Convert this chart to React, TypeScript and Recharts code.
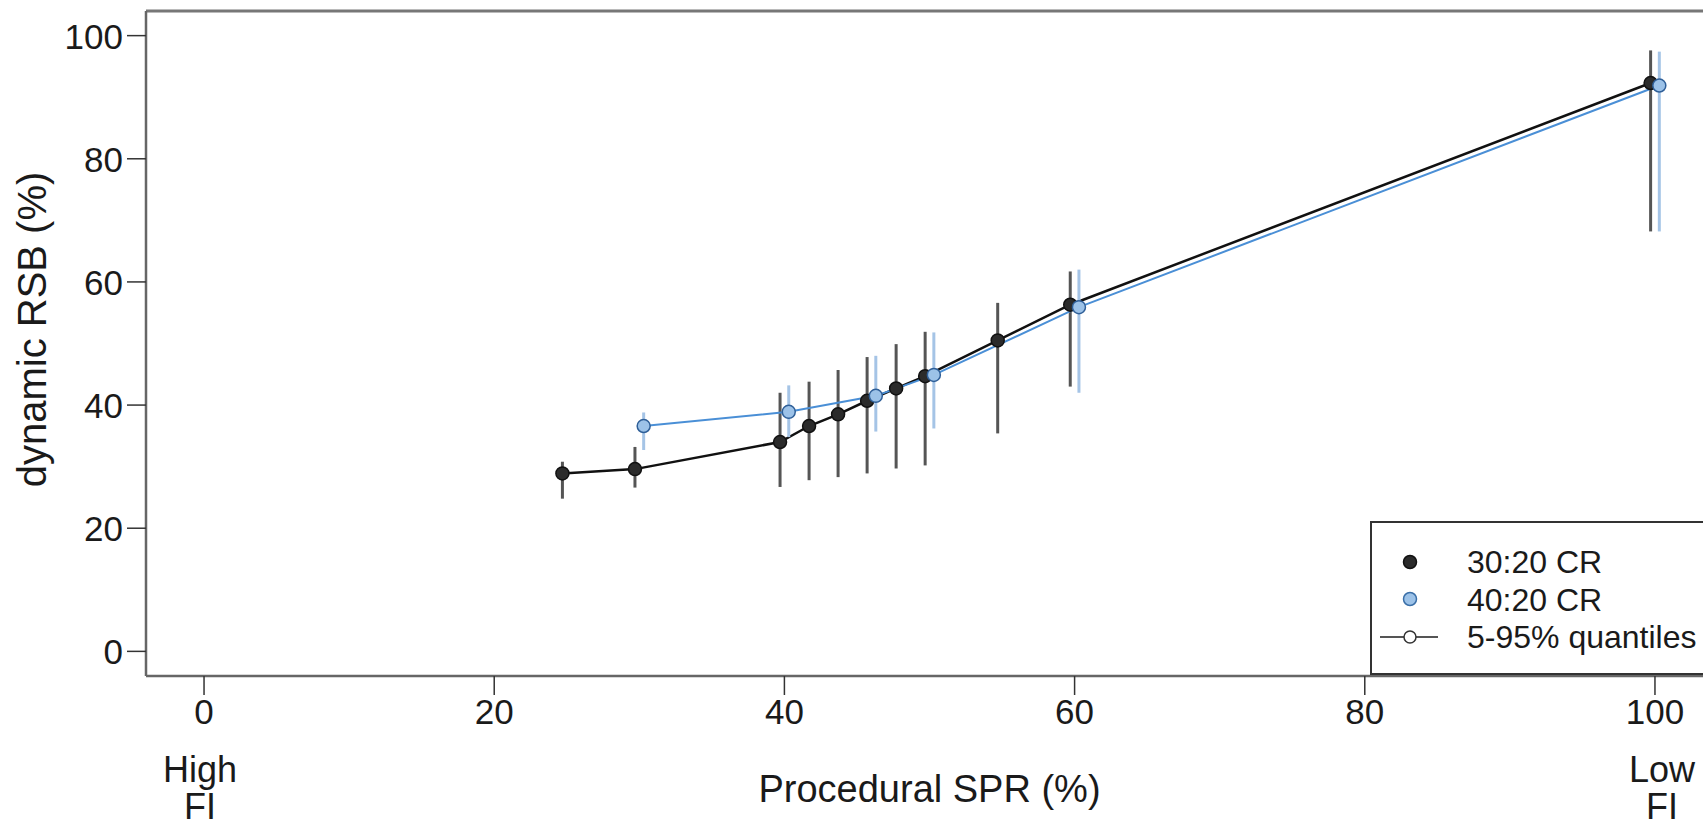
import React from 'react'
import { ComposedChart, Line, XAxis, YAxis, ErrorBar, ReferenceLine } from 'recharts'

// 30:20 CR (black), x slightly dodged left
const spr30 = [24.7, 29.7, 39.7, 41.7, 43.7, 45.7, 47.7, 49.7, 54.7, 59.7, 99.7]
const rsb30 = [28.9, 29.6, 34.0, 36.6, 38.5, 40.7, 42.7, 44.7, 50.5, 56.3, 92.3]
const lo30 = [24.8, 26.6, 26.7, 27.8, 28.3, 28.9, 29.7, 30.2, 35.4, 43.0, 68.2]
const hi30 = [30.8, 33.2, 42.0, 43.8, 45.7, 47.8, 49.9, 51.9, 56.6, 61.7, 97.6]

// 40:20 CR (blue), x slightly dodged right
const spr40 = [30.3, 40.3, 46.3, 50.3, 60.3, 100.3]
const rsb40 = [36.6, 38.9, 41.5, 44.9, 55.9, 91.9]
const lo40 = [32.7, 34.8, 35.7, 36.2, 42.0, 68.2]
const hi40 = [38.8, 43.2, 48.0, 51.8, 62.0, 97.4]

const xTicks = [0, 20, 40, 60, 80, 100]
const yTicks = [0, 20, 40, 60, 80, 100]
const legendItems = ['30:20 CR', '40:20 CR', '5-95% quantiles']

const FONT = '"Liberation Sans", Arial, sans-serif'
const INK = '#1a1a1a'

const toRows = (xs: number[], ys: number[], lo: number[], hi: number[]) =>
  xs.map((x, i) => ({ x, y: ys[i], err: [ys[i] - lo[i], hi[i] - ys[i]] }))

const rows30 = toRows(spr30, rsb30, lo30, hi30)
const rows40 = toRows(spr40, rsb40, lo40, hi40)

const XTick = (props: any) => {
  const { x, y, payload } = props
  const v = payload.value
  return (
    <g transform={`translate(${x},${y})`} fontFamily={FONT} fill={INK}>
      <text textAnchor="middle" dy={26} fontSize={35}>{v}</text>
      {v === 0 && (
        <>
          <text x={-4} y={84} textAnchor="middle" fontSize={36}>High</text>
          <text x={-4} y={121} textAnchor="middle" fontSize={36}>FI</text>
        </>
      )}
      {v === 100 && (
        <>
          <text x={7} y={84} textAnchor="middle" fontSize={36}>Low</text>
          <text x={7} y={121} textAnchor="middle" fontSize={36}>FI</text>
        </>
      )}
    </g>
  )
}

const YTick = (props: any) => {
  const { x, y, payload } = props
  return (
    <text x={x} y={y} dy={13} textAnchor="end" fontSize={35} fontFamily={FONT} fill={INK}>
      {payload.value}
    </text>
  )
}

const XTitle = (props: any) => {
  const vb = props.viewBox
  return (
    <text x={vb.x + vb.width / 2} y={vb.y + 126} textAnchor="middle" fontSize={38} fontFamily={FONT} fill={INK}>
      Procedural SPR (%)
    </text>
  )
}

const YTitle = (props: any) => {
  const vb = props.viewBox
  const cx = 46
  const cy = vb.y + vb.height / 2 - 14
  return (
    <text
      x={cx}
      y={cy}
      transform={`rotate(-90, ${cx}, ${cy})`}
      textAnchor="middle"
      fontSize={40}
      fontFamily={FONT}
      fill={INK}
    >
      dynamic RSB (%)
    </text>
  )
}

const LegendBox = () => (
  <svg width={1703} height={829} style={{ position: 'absolute', left: 0, top: 0, pointerEvents: 'none' }}>
    <rect x={1371} y={522} width={400} height={152} fill="#fff" stroke="#333" strokeWidth={2} />
    <circle cx={1410} cy={562} r={6.5} fill="#2b2b2b" stroke="#111" strokeWidth={1.5} />
    <circle cx={1410} cy={599} r={6.5} fill="#9cc2e8" stroke="#3a6fa8" strokeWidth={1.5} />
    <line x1={1380} x2={1438} y1={637} y2={637} stroke="#555" strokeWidth={2} />
    <circle cx={1410} cy={637} r={6} fill="#fff" stroke="#333" strokeWidth={1.5} />
    {legendItems.map((t, i) => (
      <text key={t} x={1467} y={573 + i * 37.5} fontSize={32} fontFamily={FONT} fill={INK}>
        {t}
      </text>
    ))}
  </svg>
)

export default function App() {
  return (
    <div style={{ position: 'absolute', left: 0, top: 0, width: 1703, height: 829, overflow: 'hidden', background: '#fff' }}>
      <ComposedChart width={1716} height={829} margin={{ top: 11, right: 3, bottom: 0, left: 0 }}>
        <XAxis
          type="number"
          dataKey="x"
          domain={[-4, 104]}
          ticks={xTicks}
          allowDataOverflow
          height={153}
          tickSize={19}
          tickMargin={3}
          tick={<XTick />}
          axisLine={{ stroke: '#666', strokeWidth: 2.5 }}
          tickLine={{ stroke: '#333', strokeWidth: 1.5 }}
          label={{ content: XTitle }}
        />
        <YAxis
          type="number"
          domain={[-4, 104]}
          ticks={yTicks}
          allowDataOverflow
          width={146}
          tickSize={19}
          tickMargin={4}
          tick={<YTick />}
          axisLine={{ stroke: '#666', strokeWidth: 2.5 }}
          tickLine={{ stroke: '#333', strokeWidth: 1.5 }}
          label={{ content: YTitle }}
        />
        <ReferenceLine y={104} stroke="#777" strokeWidth={3} />
        <ReferenceLine x={104} stroke="#777" strokeWidth={3} />
        <Line
          data={rows30}
          dataKey="y"
          type="linear"
          stroke="#111"
          strokeWidth={2.5}
          dot={{ r: 6.5, fill: '#2b2b2b', stroke: '#111', strokeWidth: 1.5 }}
          activeDot={false}
          isAnimationActive={false}
        >
          <ErrorBar dataKey="err" direction="y" width={0} stroke="#555" strokeWidth={3} />
        </Line>
        <Line
          data={rows40}
          dataKey="y"
          type="linear"
          stroke="#4a8fd6"
          strokeWidth={2}
          dot={{ r: 6.5, fill: '#9cc2e8', stroke: '#2f5f98', strokeWidth: 1.5 }}
          activeDot={false}
          isAnimationActive={false}
        >
          <ErrorBar dataKey="err" direction="y" width={0} stroke="#a5c4e6" strokeWidth={3} />
        </Line>
      </ComposedChart>
      <LegendBox />
    </div>
  )
}
